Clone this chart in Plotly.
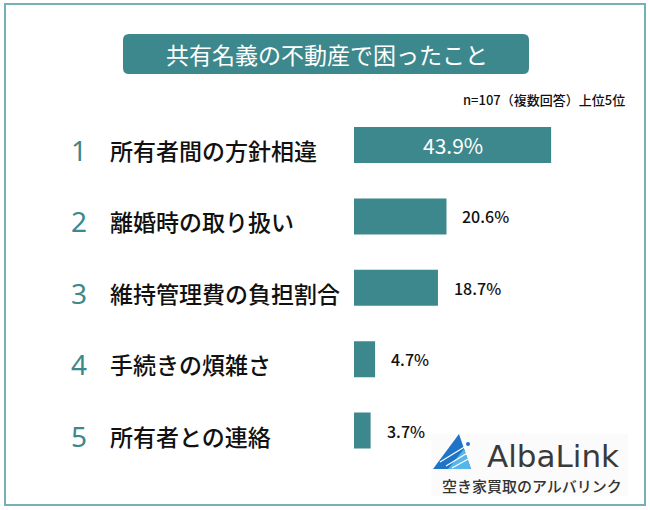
import plotly.graph_objects as go

# ---- data ----
ranks = ["1", "2", "3", "4", "5"]
categories = ["所有者間の方針相違", "離婚時の取り扱い", "維持管理費の負担割合", "手続きの煩雑さ", "所有者との連絡"]
values = [43.9, 20.6, 18.7, 4.7, 3.7]
title_text = "共有名義の不動産で困ったこと"
note_text = "n=107（複数回答）上位5位"
logo_name = "AlbaLink"
logo_sub = "空き家買取のアルバリンク"

W, H = 650, 510
TEAL = "#3d888c"
JP = "Noto Sans CJK JP"

def px(x):
    return x / W

def py(y):
    return 1 - y / H

fig = go.Figure()
fig.add_trace(go.Bar(
    y=categories, x=values, orientation="h",
    marker=dict(color=TEAL, line=dict(width=0)),
    hoverinfo="skip", showlegend=False,
))

annotations = []
# value labels
for i, (c, v) in enumerate(zip(categories, values)):
    if i == 0:
        annotations.append(dict(x=v / 2, y=c, xref="x", yref="y", text=f"{v:.1f}%",
                                showarrow=False, xanchor="center", yanchor="middle",
                                font=dict(family=JP, size=21, color="white")))
    else:
        annotations.append(dict(x=v, y=c, xref="x", yref="y", text=f"{v:.1f}%",
                                showarrow=False, xanchor="left", yanchor="middle", xshift=14,
                                font=dict(family=JP, size=16, color="#111111", weight=500)))
# rank numbers and category labels
for r, c in zip(ranks, categories):
    annotations.append(dict(x=px(79), y=c, xref="paper", yref="y", text=r, showarrow=False,
                            xanchor="center", yanchor="middle", yshift=-5,
                            font=dict(family="Noto Sans", size=28, color=TEAL)))
    annotations.append(dict(x=px(108), y=c, xref="paper", yref="y", text=c, showarrow=False,
                            xanchor="left", yanchor="middle", yshift=-5,
                            font=dict(family=JP, size=23, color="#111111", weight=500)))
# title, note
annotations.append(dict(x=px(327), y=py(54), xref="paper", yref="paper", text=title_text,
                        showarrow=False, xanchor="center", yanchor="middle",
                        font=dict(family=JP, size=23, color="white")))
annotations.append(dict(x=px(627), y=py(100), xref="paper", yref="paper", text=note_text,
                        showarrow=False, xanchor="right", yanchor="middle",
                        font=dict(family=JP, size=13, color="#111111", weight=500)))
# logo texts
annotations.append(dict(x=px(553), y=py(456), xref="paper", yref="paper", text=logo_name,
                        showarrow=False, xanchor="center", yanchor="middle",
                        font=dict(family="DejaVu Sans", size=31, color="#3a3a3a")))
annotations.append(dict(x=px(532), y=py(485), xref="paper", yref="paper", text=logo_sub,
                        showarrow=False, xanchor="center", yanchor="middle",
                        font=dict(family=JP, size=15, color="#333333", weight=500)))

shapes = []
# outer border
shapes.append(dict(type="rect", xref="paper", yref="paper", x0=px(5), x1=px(645), y0=py(505), y1=py(4),
                   line=dict(color="#74b0b4", width=2), fillcolor="rgba(0,0,0,0)", layer="below"))
# rounded title box
x0, x1, y0, y1, r = 123, 529, 34, 74, 6
def P(x, y):
    return f"{px(x)},{py(y)}"
path = (f"M {P(x0 + r, y0)} L {P(x1 - r, y0)} Q {P(x1, y0)} {P(x1, y0 + r)} "
        f"L {P(x1, y1 - r)} Q {P(x1, y1)} {P(x1 - r, y1)} L {P(x0 + r, y1)} "
        f"Q {P(x0, y1)} {P(x0, y1 - r)} L {P(x0, y0 + r)} Q {P(x0, y0)} {P(x0 + r, y0)} Z")
shapes.append(dict(type="path", xref="paper", yref="paper", path=path,
                   fillcolor=TEAL, line=dict(width=0), layer="below"))
# logo background
shapes.append(dict(type="rect", xref="paper", yref="paper", x0=px(431), x1=px(628), y0=py(496), y1=py(434),
                   fillcolor="#fbfbfb", line=dict(width=0), layer="below"))
# logo triangle
shapes.append(dict(type="path", xref="paper", yref="paper",
                   path=f"M {P(433, 469)} L {P(459, 434)} L {P(471, 469)} Z",
                   fillcolor="#1f74c8", line=dict(width=0)))
shapes.append(dict(type="path", xref="paper", yref="paper",
                   path=f"M {P(448, 469)} L {P(464, 449)} L {P(471, 469)} Z",
                   fillcolor="#56b6ea", line=dict(width=0)))
for (a, b, c_, d) in [(440, 462, 466, 446), (446, 466, 469, 452), (452, 468, 470, 458)]:
    shapes.append(dict(type="line", xref="paper", yref="paper", x0=px(a), y0=py(b), x1=px(c_), y1=py(d),
                       line=dict(color="white", width=1.2)))
shapes.append(dict(type="circle", xref="paper", yref="paper", x0=px(466), x1=px(470), y0=py(446), y1=py(442),
                   fillcolor="#1f74c8", line=dict(width=0)))

fig.update_layout(
    width=W, height=H,
    margin=dict(l=0, r=0, t=0, b=0),
    paper_bgcolor="white", plot_bgcolor="white",
    bargap=0.496,
    xaxis=dict(domain=[px(354), px(624)], range=[0, 270 / 4.49], visible=False, fixedrange=True),
    yaxis=dict(domain=[py(466.3), py(109.3)], type="category", categoryorder="array",
               categoryarray=categories, autorange="reversed", visible=False, fixedrange=True),
    annotations=annotations,
    shapes=shapes,
)

fig.write_html("out.html", config=dict(displayModeBar=False))
